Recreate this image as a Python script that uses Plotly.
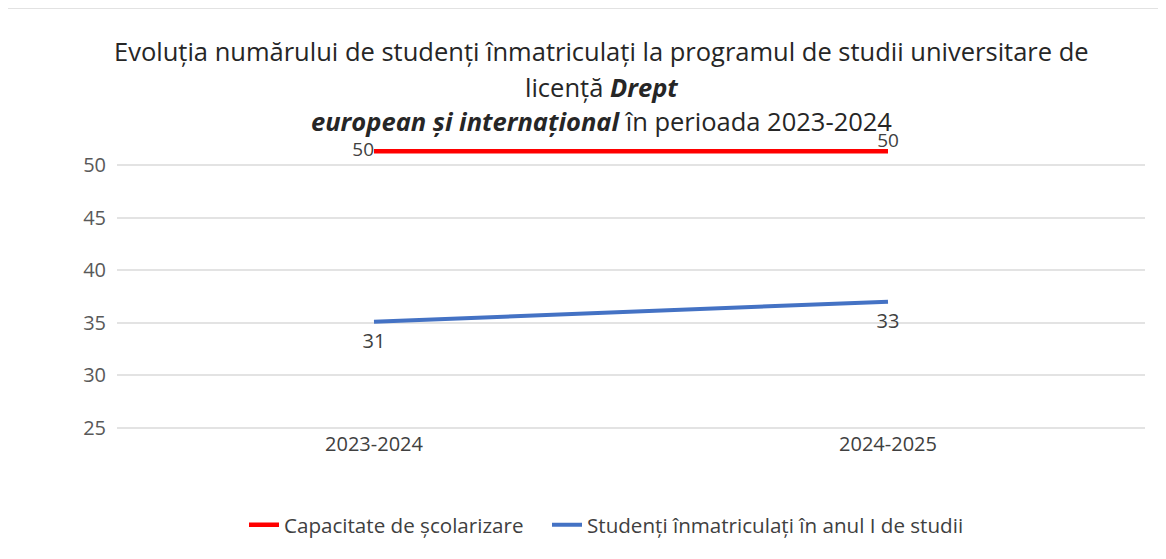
import plotly.graph_objects as go

categories = ["2023-2024", "2024-2025"]
capacitate_pos = [51.3, 51.3]
capacitate_labels = ["50", "50"]
studenti_pos = [35.1, 37.0]
studenti_labels = ["31", "33"]
y_ticks = [25, 30, 35, 40, 45, 50]

title_lines = [
    "Evoluția numărului de studenți înmatriculați la programul de studii universitare de",
    "licență <b><i>Drept</i></b>",
    "<b><i>european și internațional</i></b> în perioada 2023-2024",
]

FONT = "Open Sans"
# page has an 8px body margin, so reference pixel coords map as ref-8
PL, PW = 117, 1028          # plot left / width in reference pixels
PB, PH = 430.1, 286.1       # plot bottom / height in reference pixels


def px_x(x):
    return (x - PL) / PW


def px_y(y):
    return (PB - y) / PH


fig = go.Figure()
fig.add_trace(go.Scatter(
    x=categories, y=capacitate_pos, mode="lines+text", name="Capacitate de școlarizare",
    line=dict(color="#ff0000", width=4.5), text=capacitate_labels,
    textposition=["middle left", "top center"], legend="legend",
    textfont=dict(family=FONT, size=19, color="#404040"), cliponaxis=False))
fig.add_trace(go.Scatter(
    x=categories, y=studenti_pos, mode="lines+markers+text",
    name="Studenți înmatriculați în anul I de studii",
    line=dict(color="#4472c4", width=4), text=studenti_labels,
    marker=dict(size=16, color="rgba(0,0,0,0)"), legend="legend2",
    textposition=["bottom center", "bottom center"],
    textfont=dict(family=FONT, size=20, color="#404040"), cliponaxis=False))

annotations = []
for line, ypx in zip(title_lines, [51, 87, 121]):
    annotations.append(dict(text=line, xref="paper", yref="paper",
                            x=px_x(601), y=px_y(ypx),
                            xanchor="center", yanchor="middle", showarrow=False,
                            font=dict(family=FONT, size=25.5, color="#262626")))

legend_common = dict(orientation="h", xanchor="left", y=px_y(525), yanchor="middle",
                     font=dict(family=FONT, size=20.6, color="#404040"), itemwidth=30,
                     bgcolor="rgba(0,0,0,0)")

fig.update_layout(
    width=1166, height=559,
    paper_bgcolor="white", plot_bgcolor="white",
    margin=dict(l=109, r=29, t=136, b=137, autoexpand=False),
    annotations=annotations,
    xaxis=dict(type="category", range=[-0.5, 1.5], showgrid=False, showline=False,
               ticks="", tickfont=dict(family=FONT, size=20, color="#404040")),
    yaxis=dict(range=[24.8, 52], tickvals=y_ticks, showgrid=True, gridcolor="#e3e3e3", gridwidth=1.5,
               zeroline=False, showline=False, ticks="", ticklabelstandoff=10,
               tickfont=dict(family=FONT, size=20, color="#595959")),
    legend=dict(x=px_x(244), **legend_common),
    legend2=dict(x=px_x(547), **legend_common),
    showlegend=True,
    shapes=[dict(type="rect", xref="paper", yref="paper", x0=px_x(3), x1=1.05, y0=-0.5, y1=px_y(8),
                 line=dict(color="#d9d9d9", width=1.5))],
)
fig.write_html("out.html")
